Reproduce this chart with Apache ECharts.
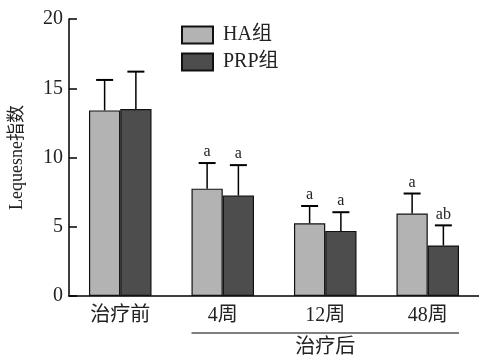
<!DOCTYPE html>
<html><head><meta charset="utf-8">
<script src="https://cdn.jsdelivr.net/npm/echarts@6/dist/echarts.min.js"></script>
<style>html,body{margin:0;padding:0;background:#fff}#c{width:479px;height:361px}</style>
</head><body><div id="c"></div>
<script>
const categories = ['治疗前', '4周', '12周', '48周'];
const haValues = [13.4, 7.75, 5.25, 5.95];
const prpValues = [13.5, 7.25, 4.7, 3.65];
const haSD = [2.2, 1.85, 1.25, 1.45];
const prpSD = [2.7, 2.2, 1.35, 1.45];
const haMarks = ['', 'a', 'a', 'a'];
const prpMarks = ['', 'a', 'a', 'ab'];
const yTicks = [0, 5, 10, 15, 20];

const FONT = "'Liberation Serif','Noto Sans CJK SC',serif";
const BAR_FRAC = 0.305;
const chart = echarts.init(document.getElementById('c'), null, {renderer: 'canvas'});

function errSeries(values, sds, marks, side) {
  return {
    type: 'custom',
    z: 5,
    data: values.map((v, i) => [i, v, sds[i]]),
    renderItem: function (params, api) {
      const i = api.value(0), v = api.value(1), sd = api.value(2);
      const bw = api.size([1, 0])[0] * BAR_FRAC;
      const base = api.coord([i, v]);
      const top = api.coord([i, v + sd]);
      const x = base[0] + side * bw / 2;
      const capHalf = 8.5;
      const children = [
        {type: 'line', shape: {x1: x, y1: base[1], x2: x, y2: top[1]}, style: {stroke: '#000', lineWidth: 1.5}},
        {type: 'line', shape: {x1: x - capHalf, y1: top[1], x2: x + capHalf, y2: top[1]}, style: {stroke: '#000', lineWidth: 2}}
      ];
      const m = marks[params.dataIndex];
      if (m) children.push({type: 'text', style: {text: m, x: x, y: top[1] - 3, textAlign: 'center', textVerticalAlign: 'bottom', font: '16px ' + FONT, fill: '#222'}});
      return {type: 'group', children: children};
    }
  };
}

chart.setOption({
  animation: false,
  grid: {left: 68, top: 19, bottom: 65, right: -2},
  legend: {
    orient: 'vertical', left: 181, top: 25, padding: 0, itemWidth: 31, itemHeight: 17, itemGap: 7,
    icon: 'rect',
    textStyle: {fontFamily: FONT, fontSize: 20, color: '#222', padding: [0, 0, 0, 5]},
    data: ['HA组', 'PRP组']
  },
  xAxis: {
    type: 'category', data: categories,
    axisLine: {lineStyle: {color: '#000', width: 1.5}},
    axisTick: {show: false},
    axisLabel: {fontFamily: FONT, fontSize: 20, color: '#222', margin: 10}
  },
  yAxis: {
    type: 'value', min: 0, max: 20, interval: 5,
    name: 'Lequesne指数', nameLocation: 'middle', nameGap: 43, nameRotate: 90,
    nameTextStyle: {fontFamily: FONT, fontSize: 18, color: '#222'},
    axisLine: {show: true, lineStyle: {color: '#000', width: 1.5}},
    axisTick: {show: true, inside: true, length: 8, lineStyle: {color: '#000', width: 1.5}},
    splitLine: {show: false},
    axisLabel: {fontFamily: FONT, fontSize: 20, color: '#222', margin: 6,
      formatter: v => yTicks.includes(v) ? String(v) : ''}
  },
  series: [
    {name: 'HA组', type: 'bar', data: haValues, barWidth: (BAR_FRAC * 100) + '%', barGap: '0%',
      itemStyle: {color: '#b3b3b3', borderColor: '#111', borderWidth: 1.2}},
    {name: 'PRP组', type: 'bar', data: prpValues, barWidth: (BAR_FRAC * 100) + '%', barGap: '0%',
      itemStyle: {color: '#4d4d4d', borderColor: '#111', borderWidth: 1.2}},
    errSeries(haValues, haSD, haMarks, -1),
    errSeries(prpValues, prpSD, prpMarks, 1)
  ]
});

// bracket under the post-treatment categories
const p1 = chart.convertToPixel({xAxisIndex: 0, yAxisIndex: 0}, [1, 0]);
const p3 = chart.convertToPixel({xAxisIndex: 0, yAxisIndex: 0}, [3, 0]);
const step = chart.convertToPixel({xAxisIndex: 0}, 2) - chart.convertToPixel({xAxisIndex: 0}, 1);
const bw = step * BAR_FRAC;
const xl = p1[0] - bw, xr = p3[0] + bw;
chart.setOption({
  graphic: [
    {type: 'line', shape: {x1: xl, y1: p1[1] + 37, x2: xr, y2: p1[1] + 37}, style: {stroke: '#000', lineWidth: 1.2}},
    {type: 'text', style: {text: '治疗后', x: (xl + xr) / 2, y: p1[1] + 52, textAlign: 'center', textVerticalAlign: 'middle', font: '20px ' + FONT, fill: '#222'}}
  ]
});
</script></body></html>
